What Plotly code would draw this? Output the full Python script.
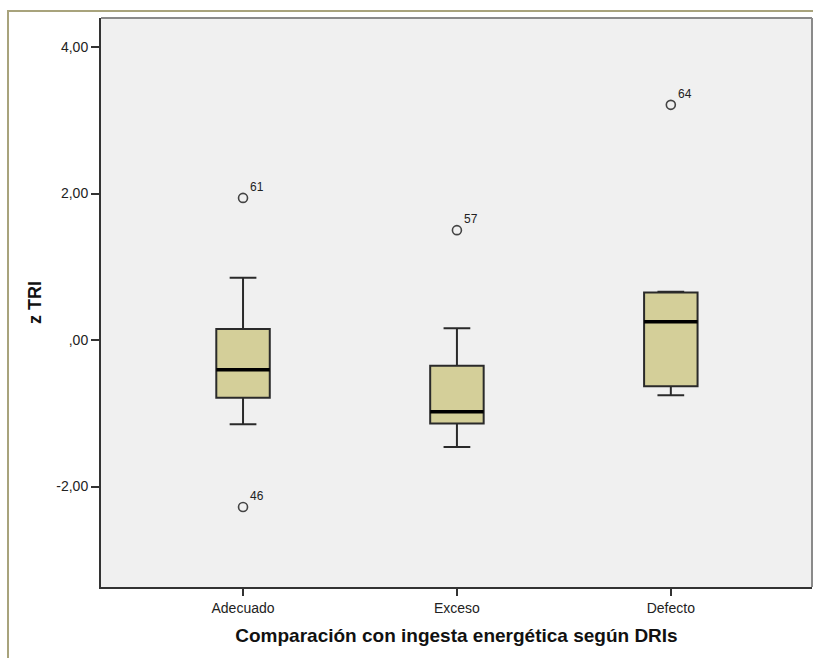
import plotly.graph_objects as go

# ---- data ----
categories = ["Adecuado", "Exceso", "Defecto"]
lower_whisker = [-1.15, -1.46, -0.755]
q1_vals = [-0.79, -1.14, -0.63]
median_vals = [-0.405, -0.98, 0.25]
q3_vals = [0.15, -0.35, 0.65]
upper_whisker = [0.85, 0.16, 0.66]

outlier_cat = [0, 0, 1, 2]
outlier_vals = [1.94, -2.28, 1.50, 3.21]
outlier_ids = ["61", "46", "57", "64"]

ytick_vals = [-2, 0, 2, 4]
ytick_text = ["-2,00", ",00", "2,00", "4,00"]

# ---- layout geometry (pixels) ----
W, H = 813, 658
L, R, T, B = 101, 812, 18, 587

xpos = list(range(len(categories)))
box_w = 0.25

fig = go.Figure()

fig.add_trace(go.Box(
    x=xpos,
    q1=q1_vals, median=median_vals, q3=q3_vals,
    lowerfence=lower_whisker, upperfence=upper_whisker,
    width=box_w, whiskerwidth=0.5,
    fillcolor="#d4cf99",
    line=dict(color="#2a2a2a", width=2),
    boxpoints=False,
    hoverinfo="skip",
    showlegend=False,
))

# thick median lines
mx, my = [], []
for i, m in zip(xpos, median_vals):
    mx += [i - box_w / 2, i + box_w / 2, None]
    my += [m, m, None]
fig.add_trace(go.Scatter(
    x=mx, y=my, mode="lines",
    line=dict(color="black", width=3.5),
    showlegend=False, hoverinfo="skip",
))

# outliers
fig.add_trace(go.Scatter(
    x=outlier_cat, y=outlier_vals, mode="markers",
    marker=dict(symbol="circle-open", size=9, color="#444444",
                line=dict(width=1.6, color="#444444")),
    showlegend=False, hoverinfo="skip",
))

annotations = []
for c, v, t in zip(outlier_cat, outlier_vals, outlier_ids):
    annotations.append(dict(
        x=c, y=v, text=t, showarrow=False,
        xanchor="left", yanchor="bottom", xshift=5, yshift=2,
        font=dict(family="Liberation Sans, Arial", size=12, color="#222222"),
    ))

pw, ph = R - L, B - T
def px_x(px):
    return (px - L) / pw
def px_y(py):
    return (B - py) / ph

shapes = [
    # plot area top/right border (lighter)
    dict(type="line", xref="paper", yref="paper", x0=0, x1=1, y0=1, y1=1,
         line=dict(color="#8a8a8a", width=2)),
    dict(type="line", xref="paper", yref="paper", x0=1, x1=1, y0=0, y1=1,
         line=dict(color="#8a8a8a", width=2)),
    # outer olive frame
    dict(type="line", xref="paper", yref="paper",
         x0=px_x(8), x1=px_x(8), y0=px_y(10), y1=px_y(H + 2),
         line=dict(color="#a8a37c", width=2)),
    dict(type="line", xref="paper", yref="paper",
         x0=px_x(7), x1=px_x(W + 2), y0=px_y(11), y1=px_y(11),
         line=dict(color="#a8a37c", width=2)),
]

fig.update_layout(
    width=W, height=H,
    margin=dict(l=L, r=W - R, t=T, b=H - B),
    paper_bgcolor="white",
    plot_bgcolor="#f0f0f0",
    font=dict(family="Liberation Sans, Arial", size=13, color="#222222"),
    annotations=annotations,
    shapes=shapes,
    xaxis=dict(
        range=[-0.664, 2.66],
        tickvals=xpos, ticktext=categories,
        ticks="outside", ticklen=7, tickwidth=1.5, tickcolor="#333333",
        showline=True, linecolor="#333333", linewidth=2,
        showgrid=False, zeroline=False,
        tickfont=dict(size=14, color="#222222"),
        title=dict(text="<b>Comparación con ingesta energética según DRIs</b>",
                   font=dict(size=19, color="#111111"), standoff=14),
    ),
    yaxis=dict(
        range=[-3.372, 4.396],
        tickvals=ytick_vals, ticktext=ytick_text,
        ticks="outside", ticklen=8, tickwidth=1.5, tickcolor="#333333",
        showline=True, linecolor="#333333", linewidth=2,
        showgrid=False, zeroline=False,
        tickfont=dict(size=14, color="#222222"),
        title=dict(text="<b>z TRI</b>", font=dict(size=18, color="#111111"),
                   standoff=10),
    ),
)

fig.write_html("out.html")
